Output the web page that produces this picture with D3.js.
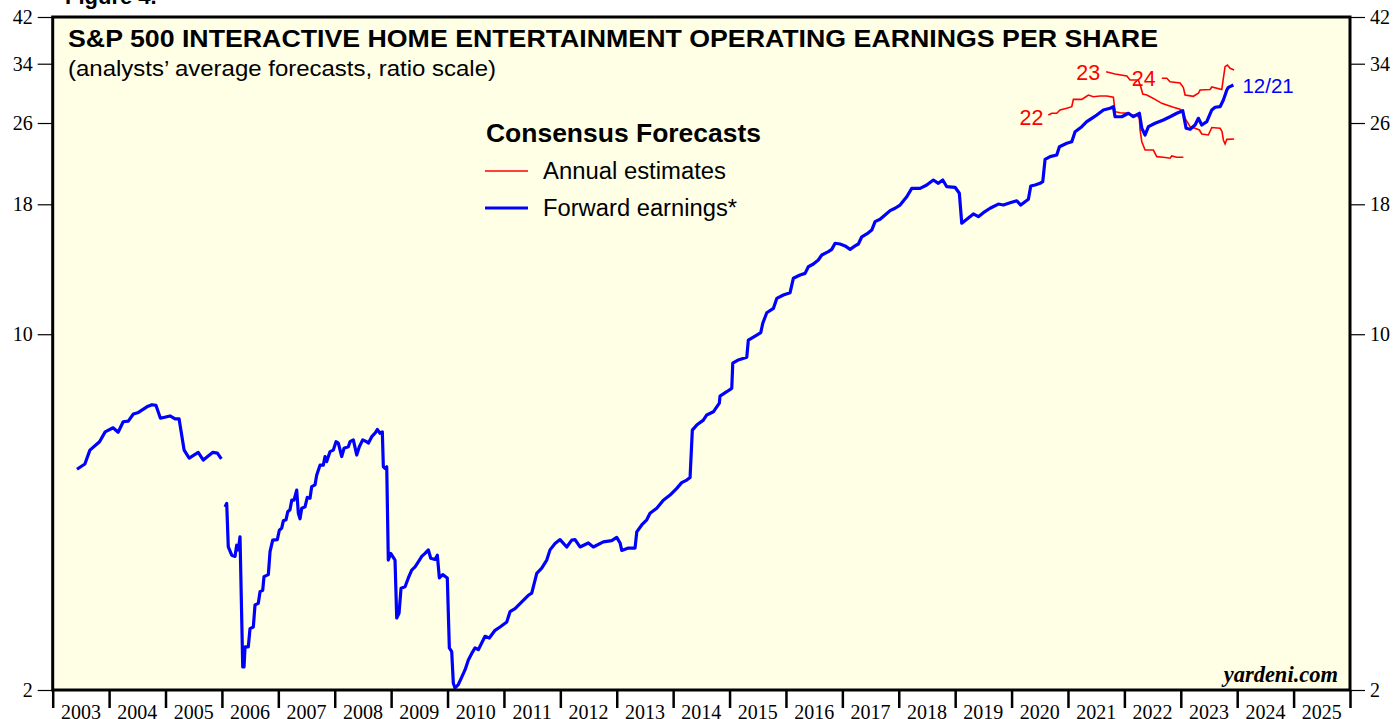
<!DOCTYPE html>
<html><head><meta charset="utf-8">
<script src="https://cdn.jsdelivr.net/npm/d3@7"></script>
<style>html,body{margin:0;padding:0;background:#fff;}svg{display:block;}</style>
</head><body>
<svg id="c" width="1395" height="719"></svg>
<script>
// ---- data ----
const years = d3.range(2003, 2026); // x-axis year labels
const yTicks = [2, 10, 18, 26, 34, 42];

// Forward earnings (two segments, gap early 2006)
const fwdA = [[2003.43,5.43],[2003.57,5.56],[2003.66,5.92],[2003.83,6.15],[2003.93,6.43],[2004.07,6.55],[2004.16,6.42],[2004.25,6.73],[2004.34,6.75],[2004.43,6.97],[2004.52,7.02],[2004.67,7.20],[2004.76,7.27],[2004.83,7.25],[2004.91,6.84],[2005.08,6.91],[2005.17,6.82],[2005.24,6.82],[2005.33,5.92],[2005.42,5.71],[2005.58,5.86],[2005.67,5.66],[2005.84,5.86],[2005.92,5.84],[2005.99,5.69]];
const fwdB = [[2006.055,4.58],[2006.085,4.65],[2006.113,3.82],[2006.174,3.68],[2006.232,3.66],[2006.262,3.85],[2006.291,3.77],[2006.321,4.00],[2006.369,2.22],[2006.392,2.22],[2006.410,2.43],[2006.468,2.43],[2006.498,2.64],[2006.557,2.66],[2006.587,2.94],[2006.645,2.96],[2006.676,3.12],[2006.723,3.14],[2006.746,3.34],[2006.823,3.37],[2006.853,3.74],[2006.901,3.94],[2006.982,3.95],[2007.018,4.12],[2007.060,4.16],[2007.089,4.30],[2007.137,4.32],[2007.167,4.48],[2007.207,4.52],[2007.238,4.72],[2007.278,4.72],[2007.326,4.94],[2007.355,4.45],[2007.385,4.34],[2007.415,4.55],[2007.473,4.58],[2007.514,4.78],[2007.562,4.76],[2007.592,5.02],[2007.651,5.06],[2007.681,5.29],[2007.739,5.53],[2007.798,5.53],[2007.828,5.75],[2007.858,5.62],[2007.917,5.88],[2007.975,5.92],[2008.023,6.15],[2008.064,6.11],[2008.124,5.75],[2008.165,5.97],[2008.241,6.01],[2008.271,6.15],[2008.330,6.20],[2008.390,5.79],[2008.436,6.01],[2008.496,6.20],[2008.567,6.15],[2008.596,6.11],[2008.656,6.29],[2008.715,6.39],[2008.755,6.50],[2008.803,6.39],[2008.844,6.43],[2008.862,5.49],[2008.892,5.45],[2008.922,5.49],[2008.950,3.60],[2008.993,3.71],[2009.069,3.60],[2009.099,2.77],[2009.140,2.83],[2009.176,3.17],[2009.247,3.19],[2009.305,3.32],[2009.365,3.44],[2009.424,3.49],[2009.482,3.57],[2009.543,3.66],[2009.601,3.71],[2009.660,3.77],[2009.702,3.63],[2009.778,3.61],[2009.819,3.68],[2009.855,3.32],[2009.915,3.37],[2009.996,3.32],[2010.032,2.42],[2010.074,2.38],[2010.103,2.06],[2010.133,2.02],[2010.191,2.05],[2010.252,2.12],[2010.310,2.19],[2010.369,2.29],[2010.429,2.36],[2010.488,2.42],[2010.546,2.40],[2010.665,2.55],[2010.741,2.53],[2010.842,2.62],[2010.931,2.66],[2011.050,2.72],[2011.108,2.85],[2011.197,2.89],[2011.316,2.98],[2011.433,3.07],[2011.493,3.10],[2011.582,3.39],[2011.670,3.47],[2011.759,3.60],[2011.817,3.77],[2011.906,3.88],[2011.995,3.95],[2012.113,3.82],[2012.202,3.94],[2012.261,3.95],[2012.349,3.82],[2012.496,3.89],[2012.585,3.82],[2012.762,3.91],[2012.911,3.93],[2013.000,3.99],[2013.059,3.89],[2013.089,3.76],[2013.206,3.80],[2013.324,3.80],[2013.355,4.09],[2013.443,4.22],[2013.532,4.32],[2013.590,4.45],[2013.709,4.55],[2013.826,4.72],[2013.945,4.83],[2014.064,4.98],[2014.152,5.11],[2014.241,5.17],[2014.300,5.23],[2014.340,6.48],[2014.418,6.63],[2014.535,6.78],[2014.596,6.94],[2014.713,7.04],[2014.819,7.32],[2014.831,7.56],[2014.950,7.71],[2015.039,7.83],[2015.057,8.77],[2015.156,8.90],[2015.305,9.01],[2015.333,9.74],[2015.482,9.96],[2015.553,10.07],[2015.589,10.51],[2015.660,11.02],[2015.777,11.24],[2015.837,11.76],[2015.954,11.94],[2016.073,12.07],[2016.131,12.88],[2016.250,13.07],[2016.339,13.17],[2016.397,13.57],[2016.486,13.74],[2016.574,13.99],[2016.635,14.31],[2016.752,14.53],[2016.812,14.68],[2016.871,15.09],[2016.959,15.04],[2017.048,14.91],[2017.137,14.68],[2017.225,14.91],[2017.284,15.04],[2017.344,15.54],[2017.433,15.74],[2017.521,16.02],[2017.580,16.64],[2017.668,16.82],[2017.757,17.15],[2017.846,17.49],[2017.934,17.68],[2018.023,17.94],[2018.142,18.63],[2018.230,19.35],[2018.378,19.35],[2018.496,19.64],[2018.613,20.09],[2018.702,19.79],[2018.780,20.09],[2018.851,19.49],[2018.998,19.44],[2019.074,18.92],[2019.117,16.52],[2019.206,16.82],[2019.323,17.23],[2019.411,17.02],[2019.500,17.33],[2019.619,17.68],[2019.766,18.02],[2019.855,17.94],[2019.973,18.13],[2020.092,18.29],[2020.163,17.94],[2020.239,18.21],[2020.298,18.41],[2020.340,19.55],[2020.417,19.64],[2020.505,19.79],[2020.553,19.94],[2020.594,22.06],[2020.683,22.33],[2020.801,22.50],[2020.848,23.36],[2020.979,23.72],[2021.067,23.89],[2021.126,25.00],[2021.245,25.57],[2021.333,26.16],[2021.422,26.56],[2021.511,26.96],[2021.628,27.58],[2021.746,27.79],[2021.805,27.99],[2021.835,26.75],[2021.954,26.75],[2022.071,27.17],[2022.160,26.75],[2022.266,27.17],[2022.309,25.39],[2022.367,24.63],[2022.426,25.57],[2022.544,25.97],[2022.691,26.36],[2022.810,26.75],[2022.929,27.17],[2023.035,27.49],[2023.094,25.39],[2023.165,25.27],[2023.253,25.77],[2023.312,26.56],[2023.372,25.77],[2023.461,26.16],[2023.550,27.58],[2023.608,27.92],[2023.697,27.99],[2023.755,28.85],[2023.816,30.18],[2023.844,30.55],[2023.933,30.87]];

// Annual estimates
const est22 = [[2020.652,26.96],[2020.713,27.17],[2020.801,27.17],[2020.860,27.58],[2020.979,27.79],[2021.067,27.99],[2021.096,28.94],[2021.245,28.94],[2021.303,29.21],[2021.362,29.51],[2021.450,29.29],[2021.569,29.38],[2021.688,29.38],[2021.805,29.21],[2021.835,27.37],[2021.924,27.24],[2022.071,27.17],[2022.113,26.96],[2022.220,26.96],[2022.266,26.56],[2022.278,25.19],[2022.309,23.89],[2022.367,23.01],[2022.514,23.01],[2022.574,22.33],[2022.691,22.27],[2022.810,22.17],[2022.840,22.40],[2022.929,22.27],[2023.046,22.27]];
const est23 = [[2021.676,32.79],[2021.835,32.46],[2022.043,32.16],[2022.101,31.58],[2022.248,31.58],[2022.291,30.60],[2022.326,29.64],[2022.397,29.51],[2022.456,29.29],[2022.544,28.94],[2022.663,28.42],[2022.752,28.21],[2022.869,27.92],[2022.988,27.67],[2023.035,27.37],[2023.076,26.56],[2023.165,25.57],[2023.253,25.39],[2023.330,25.19],[2023.372,24.74],[2023.489,24.63],[2023.550,25.48],[2023.697,25.39],[2023.732,25.00],[2023.755,24.08],[2023.785,23.65],[2023.816,24.15],[2023.946,24.18]];
const est24 = [[2022.663,31.83],[2022.752,31.83],[2022.810,31.34],[2022.988,31.16],[2023.046,30.53],[2023.076,29.51],[2023.223,29.34],[2023.312,29.74],[2023.342,30.18],[2023.520,30.25],[2023.550,30.60],[2023.727,30.25],[2023.750,31.58],[2023.785,33.55],[2023.826,33.80],[2023.874,33.30],[2023.946,33.05]];

const estLabels = [{t:"22", s:est22}, {t:"23", s:est23}, {t:"24", s:est24}];

// ---- layout ----
const L = 52.7, R = 1350, T = 17, B = 690;
const svg = d3.select("#c");
const x = d3.scaleLinear().domain([2003, 2026]).range([L, R]);
const y = d3.scaleLog().domain([2, 42]).range([B, T]);

const serif = "Liberation Serif, Times New Roman, serif";
const sans = "Liberation Sans, Arial, sans-serif";

svg.append("text").attr("x", 65).attr("y", 4).attr("font-family", sans)
  .attr("font-weight", "bold").attr("font-size", 22).attr("fill", "#000").text("Figure 4.");

svg.append("rect").attr("x", L).attr("y", T).attr("width", R - L).attr("height", B - T).attr("fill", "#ffffe6");

// y axes
const yl = svg.append("g").attr("transform", `translate(${L},0)`)
  .call(d3.axisLeft(y).tickValues(yTicks).tickFormat(d3.format("d")).tickSize(15).tickPadding(5));
const yr = svg.append("g").attr("transform", `translate(${R},0)`)
  .call(d3.axisRight(y).tickValues(yTicks).tickFormat(d3.format("d")).tickSize(15).tickPadding(5));
[yl, yr].forEach(g => {
  g.select(".domain").remove();
  g.selectAll(".tick line").attr("stroke", "#000").attr("stroke-width", 1.2);
  g.selectAll(".tick text").attr("font-family", serif).attr("font-size", 20).attr("fill", "#000");
});

// x axis (year boundaries as ticks, labels centered)
const xg = svg.append("g").attr("transform", `translate(0,${B})`)
  .call(d3.axisBottom(x).tickValues(d3.range(2003, 2027)).tickFormat("").tickSize(18));
xg.select(".domain").remove();
xg.selectAll(".tick line").attr("stroke", "#000").attr("stroke-width", 2.5);
svg.append("g").selectAll("text").data(years).join("text")
  .attr("x", d => x(d + 0.5)).attr("y", 719).attr("text-anchor", "middle")
  .attr("font-family", serif).attr("font-size", 20).attr("fill", "#000").text(d => d);

// lines
const line = d3.line().x(d => x(d[0])).y(d => y(d[1]));
const plot = svg.append("g");
[est22, est23, est24].forEach(s => plot.append("path").datum(s).attr("d", line)
  .attr("fill", "none").attr("stroke", "#ff0000").attr("stroke-width", 1.6));
[fwdA, fwdB].forEach(s => plot.append("path").datum(s).attr("d", line)
  .attr("fill", "none").attr("stroke", "#0000ff").attr("stroke-width", 3.2).attr("stroke-linejoin", "round"));

// estimate labels
const labOff = {"22": [-5, 3], "23": [-6, 1], "24": [-6, 1]};
estLabels.forEach(e => {
  const d0 = e.s[0];
  svg.append("text").attr("x", x(d0[0]) + labOff[e.t][0]).attr("y", y(d0[1]) + 7 + labOff[e.t][1])
    .attr("text-anchor", "end").attr("font-family", sans).attr("font-size", 21.5).attr("fill", "#ff0000").text(e.t);
});
const last = fwdB[fwdB.length - 1];
svg.append("text").attr("x", x(last[0]) + 9).attr("y", y(last[1]) + 8)
  .attr("font-family", sans).attr("font-size", 20.5).attr("fill", "#0000ff").text("12/21");

// frame
svg.append("rect").attr("x", L).attr("y", T).attr("width", R - L).attr("height", B - T)
  .attr("fill", "none").attr("stroke", "#000").attr("stroke-width", 3);

// titles
svg.append("text").attr("x", 68).attr("y", 47).attr("font-family", sans).attr("font-weight", "bold")
  .attr("font-size", 24.5).attr("fill", "#000").attr("textLength", 1090).attr("lengthAdjust", "spacingAndGlyphs")
  .text("S&P 500 INTERACTIVE HOME ENTERTAINMENT OPERATING EARNINGS PER SHARE");
svg.append("text").attr("x", 68).attr("y", 76).attr("font-family", sans)
  .attr("font-size", 22.5).attr("fill", "#000").attr("textLength", 428).attr("lengthAdjust", "spacingAndGlyphs")
  .text("(analysts\u2019 average forecasts, ratio scale)");

// legend
svg.append("text").attr("x", 486).attr("y", 142).attr("font-family", sans).attr("font-weight", "bold")
  .attr("font-size", 25).attr("fill", "#000").attr("textLength", 275).attr("lengthAdjust", "spacingAndGlyphs")
  .text("Consensus Forecasts");
const leg = [{t: "Annual estimates", c: "#ff0000", w: 1.6, y: 171, len: 183}, {t: "Forward earnings*", c: "#0000ff", w: 3.2, y: 208, len: 194}];
leg.forEach(l => {
  svg.append("line").attr("x1", 485).attr("x2", 528).attr("y1", l.y).attr("y2", l.y).attr("stroke", l.c).attr("stroke-width", l.w);
  svg.append("text").attr("x", 543).attr("y", l.y + 8).attr("font-family", sans).attr("font-size", 23)
    .attr("textLength", l.len).attr("lengthAdjust", "spacingAndGlyphs").attr("fill", "#000").text(l.t);
});

svg.append("text").attr("x", 1338).attr("y", 682).attr("text-anchor", "end").attr("font-family", serif)
  .attr("font-weight", "bold").attr("font-style", "italic").attr("font-size", 22.5).attr("fill", "#000").text("yardeni.com");
</script>
</body></html>
